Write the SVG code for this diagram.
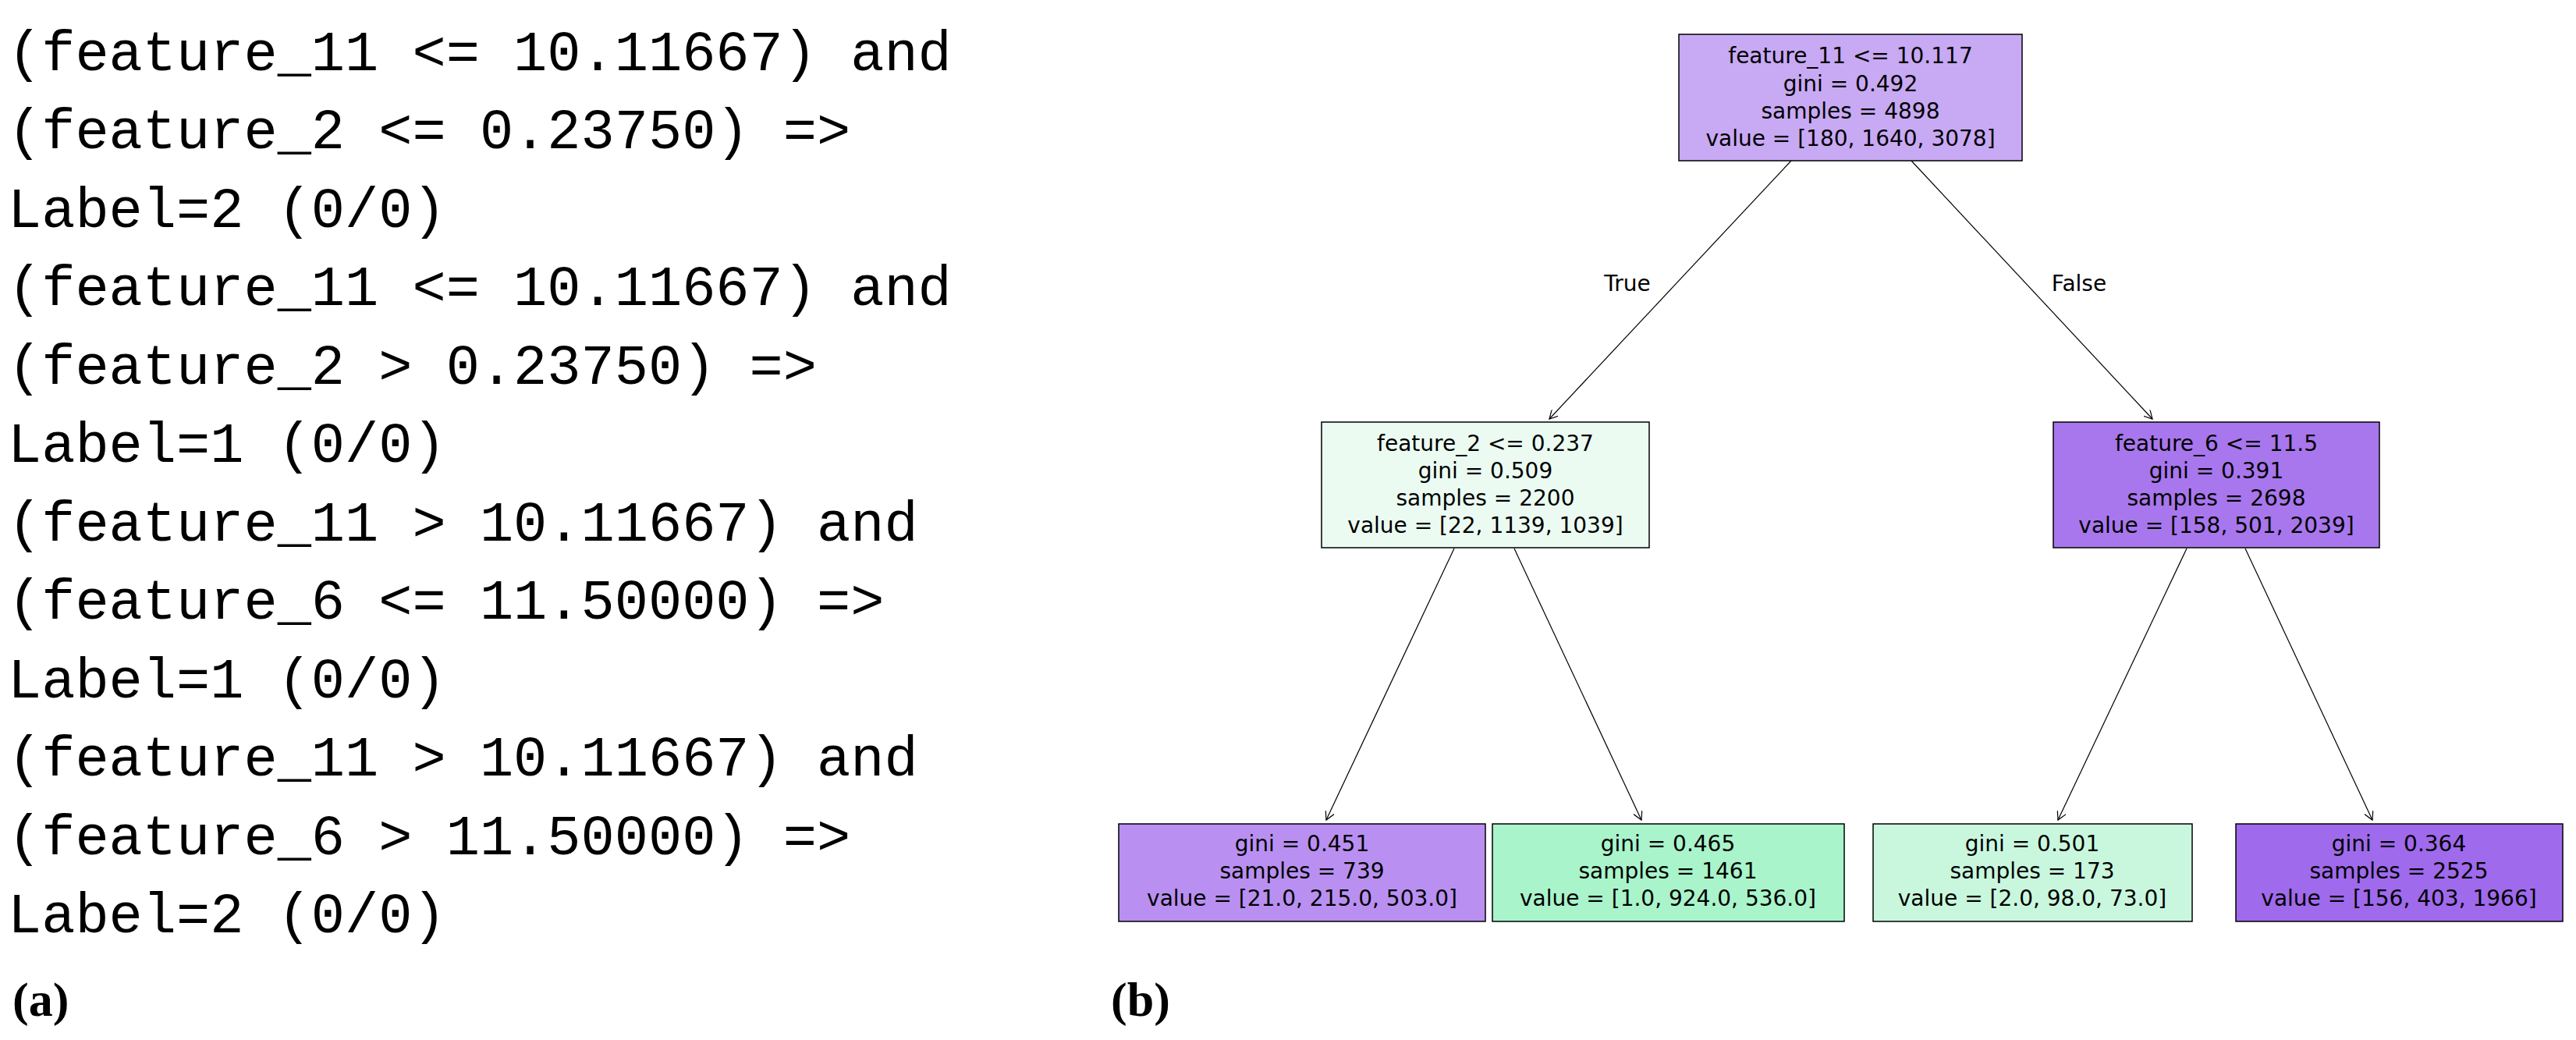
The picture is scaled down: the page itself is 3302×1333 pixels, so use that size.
<svg xmlns="http://www.w3.org/2000/svg" width="3302" height="1333" viewBox="0 0 3302 1333">
<style>
.code{font-family:"Liberation Mono",monospace;font-size:72px;fill:#000}
.cap{font-family:"Liberation Serif",serif;font-weight:bold;font-size:62px;fill:#000}
.box{stroke:#000;stroke-width:1.5}
.t{font-family:"DejaVu Sans",sans-serif;font-size:28px;text-anchor:middle;dominant-baseline:central;fill:#000}
.e{stroke:#000;stroke-width:1.2;fill:none;marker-end:url(#ah)}
</style>
<defs><marker id="ah" viewBox="0 0 12 12" refX="11" refY="6" markerWidth="12" markerHeight="12" markerUnits="userSpaceOnUse" orient="auto"><path d="M0,0 L11,6 L0,12" fill="none" stroke="#000" stroke-width="1.2"/></marker></defs>
<rect width="3302" height="1333" fill="#fff"/>
<g id="rules">
<text class="code" x="10" y="90">(feature_11 &lt;= 10.11667) and</text>
<text class="code" x="10" y="190">(feature_2 &lt;= 0.23750) =&gt;</text>
<text class="code" x="10" y="291">Label=2 (0/0)</text>
<text class="code" x="10" y="391">(feature_11 &lt;= 10.11667) and</text>
<text class="code" x="10" y="492">(feature_2 &gt; 0.23750) =&gt;</text>
<text class="code" x="10" y="592">Label=1 (0/0)</text>
<text class="code" x="10" y="693">(feature_11 &gt; 10.11667) and</text>
<text class="code" x="10" y="793">(feature_6 &lt;= 11.50000) =&gt;</text>
<text class="code" x="10" y="894">Label=1 (0/0)</text>
<text class="code" x="10" y="994">(feature_11 &gt; 10.11667) and</text>
<text class="code" x="10" y="1095">(feature_6 &gt; 11.50000) =&gt;</text>
<text class="code" x="10" y="1195">Label=2 (0/0)</text>
<text class="cap" x="16" y="1302">(a)</text>
<text class="cap" x="1424" y="1302">(b)</text>
</g>
<g id="edges">
<line class="e" x1="2296" y1="206" x2="1986" y2="537"/>
<line class="e" x1="2450" y1="206" x2="2759" y2="537"/>
<line class="e" x1="1864" y1="703" x2="1700" y2="1051"/>
<line class="e" x1="1941" y1="703" x2="2104" y2="1051"/>
<line class="e" x1="2803" y1="703" x2="2638" y2="1051"/>
<line class="e" x1="2878" y1="703" x2="3041" y2="1051"/>
<text class="t" x="2086" y="363">True</text>
<text class="t" x="2665" y="363">False</text>
</g>
<g id="root"><rect class="box" x="2152" y="44" width="440" height="162" fill="#c8a9f4"/>
<text class="t" x="2372" y="71">feature_11 &lt;= 10.117</text><text class="t" x="2372" y="107">gini = 0.492</text><text class="t" x="2372" y="142">samples = 4898</text><text class="t" x="2372" y="177">value = [180, 1640, 3078]</text></g>
<g id="n1"><rect class="box" x="1694" y="541" width="420" height="161" fill="#ebfbf2"/>
<text class="t" x="1904" y="568">feature_2 &lt;= 0.237</text><text class="t" x="1904" y="603">gini = 0.509</text><text class="t" x="1904" y="638">samples = 2200</text><text class="t" x="1904" y="673">value = [22, 1139, 1039]</text></g>
<g id="n4"><rect class="box" x="2632" y="541" width="418" height="161" fill="#a877ed"/>
<text class="t" x="2841" y="568">feature_6 &lt;= 11.5</text><text class="t" x="2841" y="603">gini = 0.391</text><text class="t" x="2841" y="638">samples = 2698</text><text class="t" x="2841" y="673">value = [158, 501, 2039]</text></g>
<g id="n2"><rect class="box" x="1434" y="1056" width="470" height="125" fill="#b990f1"/>
<text class="t" x="1669" y="1081">gini = 0.451</text><text class="t" x="1669" y="1116">samples = 739</text><text class="t" x="1669" y="1151">value = [21.0, 215.0, 503.0]</text></g>
<g id="n3"><rect class="box" x="1913" y="1056" width="451" height="125" fill="#a9f4cb"/>
<text class="t" x="2138" y="1081">gini = 0.465</text><text class="t" x="2138" y="1116">samples = 1461</text><text class="t" x="2138" y="1151">value = [1.0, 924.0, 536.0]</text></g>
<g id="n5"><rect class="box" x="2401" y="1056" width="409" height="125" fill="#c9f7de"/>
<text class="t" x="2605" y="1081">gini = 0.501</text><text class="t" x="2605" y="1116">samples = 173</text><text class="t" x="2605" y="1151">value = [2.0, 98.0, 73.0]</text></g>
<g id="n6"><rect class="box" x="2866" y="1056" width="419" height="125" fill="#9f6aec"/>
<text class="t" x="3075" y="1081">gini = 0.364</text><text class="t" x="3075" y="1116">samples = 2525</text><text class="t" x="3075" y="1151">value = [156, 403, 1966]</text></g>
</svg>
